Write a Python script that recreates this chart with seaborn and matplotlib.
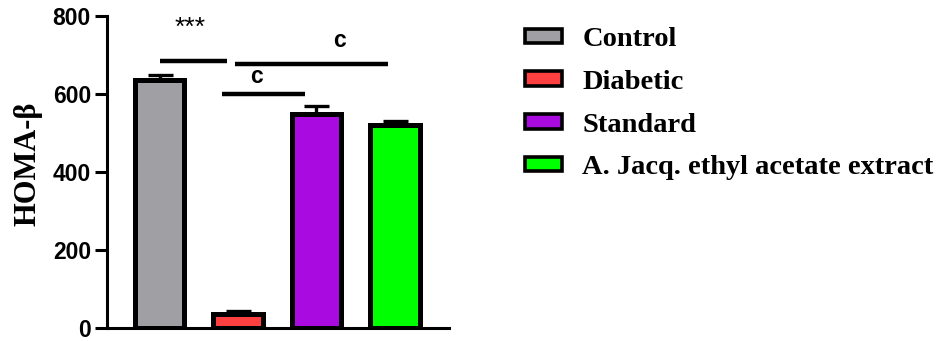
import matplotlib
matplotlib.use("Agg")
import matplotlib.pyplot as plt
import matplotlib.patches as mpatches
import seaborn as sns
import pandas as pd
import numpy as np

groups = ["Control", "Diabetic", "Standard", "A. Jacq. ethyl acetate extract"]
values = [635, 35, 550, 521]
errors = [15, 9, 20, 11]
colors = ["#A09FA4", "#FF4040", "#A80AE0", "#00FF00"]
y_ticks = [0, 200, 400, 600, 800]
y_label = "HOMA-β"

# significance annotations
sig_lines = [(0.0, 0.86, 685), (0.96, 2.91, 677), (0.80, 1.85, 600)]
sig_texts = [("***", 0.39, 770, 19, "normal"), ("c", 2.29, 736, 16.5, "bold"),
             ("c", 1.24, 646, 16.5, "bold")]

df = pd.DataFrame({"group": groups, "value": values})

sns.set_style("ticks")
plt.rcParams["font.family"] = ["Liberation Sans", "DejaVu Sans"]
plt.rcParams["text.color"] = "black"

fig = plt.figure(figsize=(9.44, 3.41), dpi=100)
ax = fig.add_axes([0.1133, 0.038, 0.3623, 0.915])

sns.barplot(data=df, x="group", y="value", hue="group", palette=colors,
            order=groups, hue_order=groups, dodge=False, legend=False,
            width=0.63, edgecolor="black", linewidth=3.6, errorbar=None,
            saturation=1, ax=ax)

xs = np.arange(len(groups))
ax.errorbar(xs, values, yerr=[np.zeros(len(errors)), errors], fmt="none",
            ecolor="black", elinewidth=2.4, capsize=9, capthick=2.4, zorder=3)

ax.set_xlim(-0.67, 3.69)
ax.set_ylim(0, 800)
ax.set_yticks(y_ticks)
ax.set_yticklabels([str(t) for t in y_ticks], fontsize=16.5, fontweight="bold",
                   family="Liberation Sans", color="black")
ax.set_xticks([])
ax.set_xlabel("")
ax.set_ylabel(y_label, fontsize=22, fontweight="bold", family="Liberation Serif",
              color="black")
ax.yaxis.set_label_coords(-0.187, 0.525)
for s in ["top", "right"]:
    ax.spines[s].set_visible(False)
for s in ["left", "bottom"]:
    ax.spines[s].set_linewidth(2.2)
    ax.spines[s].set_color("black")
ax.tick_params(axis="y", length=8.5, width=2.2, color="black", pad=3)

for x0, x1, y in sig_lines:
    ax.plot([x0, x1], [y, y], color="black", lw=3.2, solid_capstyle="butt", clip_on=False)
for txt, x, y, fs, fw in sig_texts:
    ax.text(x, y, txt, ha="center", va="center", fontsize=fs, fontweight=fw,
            family="Liberation Sans", color="black", clip_on=False)

handles = [mpatches.Patch(facecolor=c, edgecolor="black", linewidth=2.6, label=g)
           for g, c in zip(groups, colors)]
leg = fig.legend(handles=handles, loc="upper left", bbox_to_anchor=(0.556, 0.92),
                 frameon=False, borderaxespad=0, borderpad=0,
                 prop={"family": "Liberation Serif", "weight": "bold", "size": 20.5},
                 handlelength=1.3, handleheight=0.42, handletextpad=0.72,
                 labelspacing=0.62)
for t in leg.get_texts():
    t.set_color("black")

fig.savefig("out.png", dpi=100)
